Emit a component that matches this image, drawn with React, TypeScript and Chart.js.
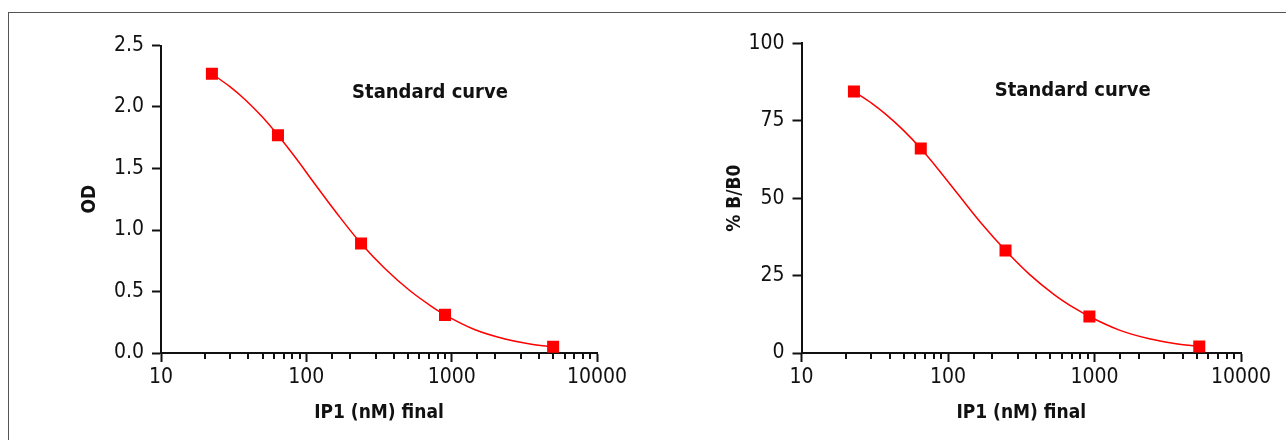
import React, { useEffect, useRef } from "react";
import { Chart, registerables } from "chart.js";

Chart.register(...registerables);

// ---- data ----
// measured standards (markers)
const odConcentrations = [22.4, 63.8, 238, 900, 4990];
const odValues = [2.27, 1.77, 0.89, 0.31, 0.05];
const bb0Concentrations = [22.8, 65.2, 247, 923, 5190];
const bb0Values = [84.4, 66.0, 33.1, 11.8, 2.1];
// fitted curve
const odCurveX = [22.4, 29.8, 37.8, 49.5, 63.8, 83.6, 114.8, 165, 238, 347, 517, 721, 900, 1449, 2329, 3459, 4990];
const odCurveY = [2.27, 2.165, 2.061, 1.922, 1.77, 1.593, 1.372, 1.124, 0.89, 0.687, 0.506, 0.382, 0.31, 0.189, 0.114, 0.073, 0.05];
const bb0CurveX = [22.8, 30.2, 38.2, 49.9, 65.2, 85.1, 116.4, 169.8, 247, 360, 533, 741, 923, 1479, 2365, 3510, 5190];
const bb0CurveY = [84.4, 80.6, 76.8, 71.8, 66.0, 59.5, 51.4, 41.7, 33.1, 25.4, 18.8, 14.3, 11.8, 7.4, 4.6, 3.1, 2.1];
const xTickLabels = ["10", "100", "1000", "10000"];
const odTicks = [0, 0.5, 1.0, 1.5, 2.0, 2.5];
const bb0Ticks = [0, 25, 50, 75, 100];
const curveTitle = "Standard curve";
const xAxisTitle = "IP1 (nM) final";

const FONT = "'DejaVu Sans Condensed', 'DejaVu Sans', sans-serif";
const INK = "#111111";
const RED = "#ff0000";

type PanelCfg = {
  xs: number[];
  ys: number[];
  cx: number[];
  cy: number[];
  yTicks: number[];
  yDecimals: number;
  yTitle: string;
  yTitlePad: number;
  yAxisWidth: number;
  padTop: number;
};

const isPow10 = (v: number) => Math.abs(Math.log10(v) - Math.round(Math.log10(v))) < 1e-9;

function Panel({ cfg, left, top, width, height }: { cfg: PanelCfg; left: number; top: number; width: number; height: number }) {
  const ref = useRef<HTMLCanvasElement | null>(null);
  useEffect(() => {
    if (!ref.current) return;
    const yMin = cfg.yTicks[0];
    const yMax = cfg.yTicks[cfg.yTicks.length - 1];
    const step = cfg.yTicks[1] - cfg.yTicks[0];

    const extras = {
      id: "extras",
      afterDraw(chart: any) {
        const ctx = chart.ctx;
        const x = chart.scales.x;
        const area = chart.chartArea;
        // minor ticks (shorter)
        ctx.save();
        ctx.strokeStyle = INK;
        ctx.lineWidth = 2;
        x.ticks.forEach((t: any) => {
          if (isPow10(t.value)) return;
          const px = Math.round(x.getPixelForValue(t.value));
          ctx.beginPath();
          ctx.moveTo(px, area.bottom);
          ctx.lineTo(px, area.bottom + 6);
          ctx.stroke();
        });
        // annotation text
        ctx.fillStyle = INK;
        ctx.font = `bold 20px ${FONT}`;
        ctx.textAlign = "center";
        ctx.textBaseline = "middle";
        ctx.fillText(curveTitle, area.left + (area.right - area.left) * 0.617, area.top + 47);
        ctx.restore();
      },
    };

    const chart = new Chart(ref.current, {
      type: "line",
      data: {
        datasets: [
          {
            data: cfg.xs.map((x, i) => ({ x, y: cfg.ys[i] })),
            showLine: false,
            pointStyle: "rect",
            pointRadius: 8.5,
            pointBorderWidth: 0,
            pointBackgroundColor: RED,
            backgroundColor: RED,
            borderColor: RED,
            order: 0,
          },
          {
            data: cfg.cx.map((x, i) => ({ x, y: cfg.cy[i] })),
            borderColor: RED,
            borderWidth: 1.5,
            pointRadius: 0,
            cubicInterpolationMode: "monotone",
            fill: false,
            order: 1,
          },
        ],
      },
      options: {
        animation: false,
        responsive: false,
        events: [],
        layout: { padding: { left: 0, right: 43, top: cfg.padTop, bottom: 0 } },
        plugins: { legend: { display: false }, tooltip: { enabled: false } },
        scales: {
          x: {
            type: "logarithmic",
            min: 10,
            max: 10000,
            border: { display: true, color: INK, width: 2 },
            grid: { display: true, drawOnChartArea: false, drawTicks: true, tickLength: 9, tickWidth: 2, tickColor: (c: any) => (c.tick && isPow10(c.tick.value) ? INK : "rgba(0,0,0,0)") },
            ticks: {
              autoSkip: false,
              maxRotation: 0,
              minRotation: 0,
              padding: 3,
              color: INK,
              font: { family: FONT, size: 21 },
              callback: (v: any) => {
                const n = Number(v);
                if (!isPow10(n)) return "";
                const s = String(Math.round(n));
                return xTickLabels.includes(s) ? s : "";
              },
            },
            title: { display: true, text: xAxisTitle, color: INK, font: { family: FONT, size: 19, weight: "bold" }, padding: { top: 0, bottom: 16 } },
            afterFit: (s: any) => {
              s.height = 87;
            },
          },
          y: {
            type: "linear",
            min: yMin,
            max: yMax,
            border: { display: true, color: INK, width: 2 },
            grid: { display: true, drawOnChartArea: false, drawTicks: true, tickLength: 9, tickWidth: 2, tickColor: INK },
            ticks: {
              stepSize: step,
              padding: 8,
              color: INK,
              font: { family: FONT, size: 21 },
              callback: (v: any) => Number(v).toFixed(cfg.yDecimals),
            },
            title: { display: true, text: cfg.yTitle, color: INK, font: { family: FONT, size: 19, weight: "bold" }, padding: { top: cfg.yTitlePad, bottom: 0 } },
            afterFit: (s: any) => {
              s.width = cfg.yAxisWidth;
            },
          },
        },
      },
      plugins: [extras],
    } as any);
    return () => chart.destroy();
  }, [cfg]);
  return (
    <canvas
      ref={ref}
      width={width}
      height={height}
      style={{ position: "absolute", left, top, width, height }}
    />
  );
}

const leftCfg: PanelCfg = { xs: odConcentrations, ys: odValues, cx: odCurveX, cy: odCurveY, yTicks: odTicks, yDecimals: 1, yTitle: "OD", yTitlePad: 59, yAxisWidth: 141, padTop: 25.5 };
const rightCfg: PanelCfg = { xs: bb0Concentrations, ys: bb0Values, cx: bb0CurveX, cy: bb0CurveY, yTicks: bb0Ticks, yDecimals: 0, yTitle: "% B/B0", yTitlePad: 64, yAxisWidth: 141.5, padTop: 25.3 };

export default function App() {
  return (
    <div style={{ position: "fixed", left: 0, top: 0, width: 1286, height: 440, overflow: "hidden", background: "#fff" }}>
      <div style={{ position: "absolute", left: 8, top: 12, width: 1300, height: 440, borderTop: "1px solid #555", borderLeft: "1px solid #555" }} />
      <Panel cfg={leftCfg} left={20} top={20} width={620} height={420} />
      <Panel cfg={rightCfg} left={660} top={18} width={624} height={422} />
    </div>
  );
}
